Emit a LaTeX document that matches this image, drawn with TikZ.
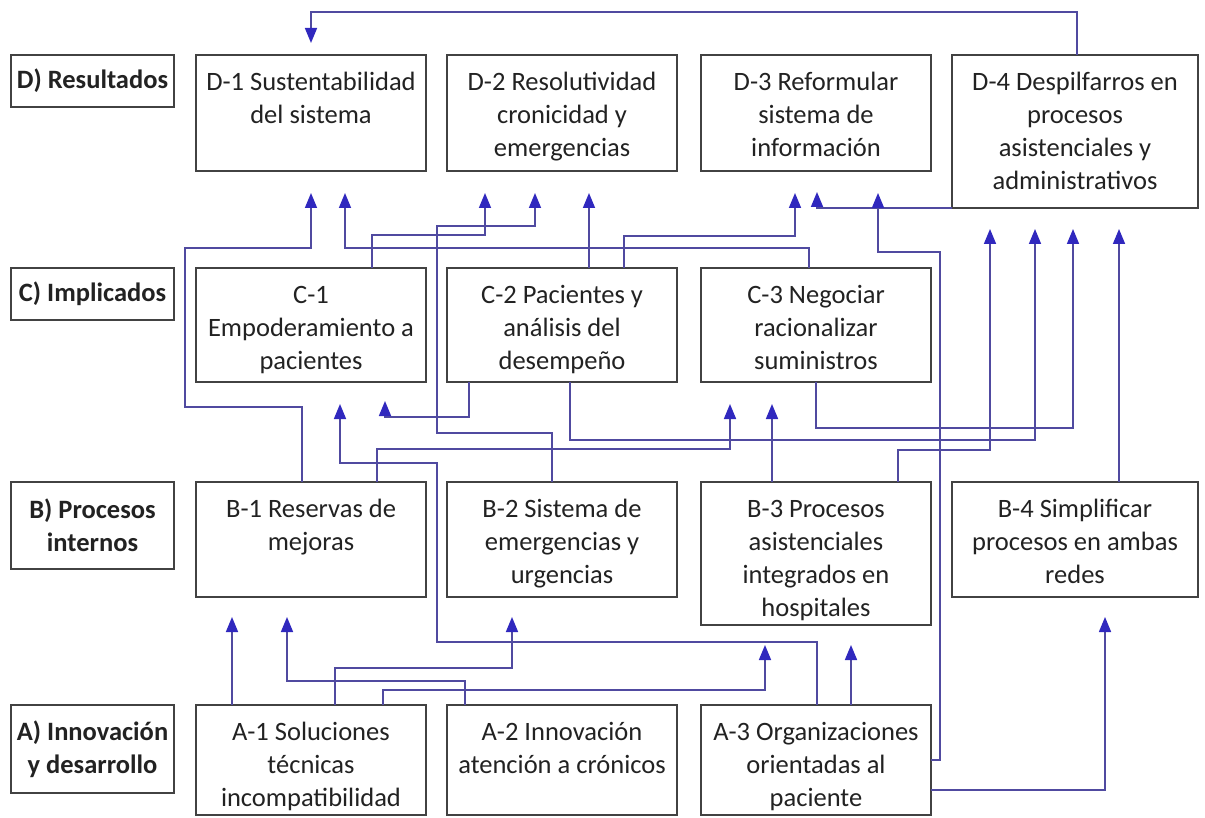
\documentclass[tikz,border=0pt]{standalone}
\usepackage{fontspec}
\setmainfont{Carlito}
\usetikzlibrary{arrows.meta,calc}
\definecolor{linec}{RGB}{80,74,160}
\definecolor{tipc}{RGB}{48,40,190}
\definecolor{boxc}{RGB}{66,66,66}
\definecolor{txtc}{RGB}{34,34,34}
\tikzset{
  box/.style={draw=boxc, line width=1.9pt, inner sep=0pt, outer sep=0pt, anchor=north west, text=txtc, font=\fontsize{26.5}{33}\selectfont},
  lbl/.style={box, font=\fontsize{26.5}{33}\selectfont\bfseries, align=center},
  conn/.style={draw=linec, line width=1.6pt, -{Triangle[length=15pt,width=12pt,color=tipc]}},
}
\newcommand\bx[6]{\node[box, minimum width=#4pt, minimum height=#5pt] (#1) at (#2,#3) {\parbox[c][#5pt][t]{#4pt}{\centering\vspace*{12.5pt}\strut #6\par}};}
\begin{document}
\begin{tikzpicture}[x=1pt,y=-1pt]
\useasboundingbox (0,0) rectangle (1205,818);
\fill[white] (0,0) rectangle (1205,818);
% row labels
\node[lbl, minimum width=163pt, minimum height=52pt] (LD) at (11,55) {D) Resultados};
\node[lbl, minimum width=163pt, minimum height=52pt] (LC) at (11,268) {C) Implicados};
\node[lbl, minimum width=163pt, minimum height=87pt] (LB) at (11,482) {B) Procesos\\internos};
\node[lbl, minimum width=163pt, minimum height=88pt] (LA) at (11,705) {A) Innovación\\y desarrollo};
% boxes
\bx{D1}{196}{55}{230}{116}{D-1 Sustentabilidad\\del sistema}
\bx{D2}{447}{55}{230}{116}{D-2 Resolutividad\\cronicidad y\\emergencias}
\bx{D3}{701}{55}{230}{116}{D-3 Reformular\\sistema de\\información}
\bx{D4}{952}{55}{246}{153}{D-4 Despilfarros en\\procesos\\asistenciales y\\administrativos}
\bx{C1}{196}{268}{230}{114}{C-1\\Empoderamiento a\\pacientes}
\bx{C2}{447}{268}{230}{114}{C-2 Pacientes y\\análisis del\\desempeño}
\bx{C3}{701}{268}{230}{114}{C-3 Negociar\\racionalizar\\suministros}
\bx{B1}{196}{482}{230}{115}{B-1 Reservas de\\mejoras}
\bx{B2}{447}{482}{230}{115}{B-2 Sistema de\\emergencias y\\urgencias}
\bx{B3}{701}{482}{230}{143}{B-3 Procesos\\asistenciales\\integrados en\\hospitales}
\bx{B4}{952}{482}{246}{115}{B-4 Simplificar\\procesos en ambas\\redes}
\bx{A1}{196}{705}{230}{110}{A-1 Soluciones\\técnicas\\incompatibilidad}
\bx{A2}{447}{705}{230}{110}{A-2 Innovación\\atención a crónicos}
\bx{A3}{701}{705}{230}{110}{A-3 Organizaciones\\orientadas al\\paciente}
% connectors
\draw[conn] (D4.north -| 1077,0) -- (1077,12) -- (311,12) -- ($(D1.north -| 311,0)+(0,-12)$);
\draw[conn] (B1.north -| 302,0) -- (302,407) -- (185,407) -- (185,248) -- (311,248) -- ($(D1.south -| 311,0)+(0,22)$);
\draw[conn] (C3.north -| 809,0) -- (809,248) -- (345,248) -- ($(D1.south -| 345,0)+(0,22)$);
\draw[conn] (C1.north -| 372,0) -- (372,235) -- (485,235) -- ($(D2.south -| 485,0)+(0,22)$);
\draw[conn] (B2.north -| 552,0) -- (552,433) -- (437,433) -- (437,226) -- (535,226) -- ($(D2.south -| 535,0)+(0,22)$);
\draw[conn] (C2.north -| 589,0) -- ($(D2.south -| 589,0)+(0,22)$);
\draw[conn] (C2.north -| 624,0) -- (624,236) -- (795,236) -- ($(D3.south -| 795,0)+(0,22)$);
\draw[conn] (D4.south west) -- (817,208) -- ($(D3.south -| 817,0)+(0,21)$);
\draw[conn] (A3.east |- 0,760) -- (940,760) -- (940,252) -- (878,252) -- ($(D3.south -| 878,0)+(0,22)$);
\draw[conn] (B3.north -| 898,0) -- (898,450) -- (990,450) -- ($(D4.south -| 990,0)+(0,21)$);
\draw[conn] (C2.south -| 570,0) -- (570,440) -- (1035,440) -- ($(D4.south -| 1035,0)+(0,21)$);
\draw[conn] (C3.south -| 816,0) -- (816,428) -- (1073,428) -- ($(D4.south -| 1073,0)+(0,21)$);
\draw[conn] (B4.north -| 1119,0) -- ($(D4.south -| 1119,0)+(0,21)$);
\draw[conn] (A3.north -| 817,0) -- (817,642) -- (437,642) -- (437,463) -- (340,463) -- ($(C1.south -| 340,0)+(0,22)$);
\draw[conn] (C2.south -| 469,0) -- (469,417) -- (385,417) -- ($(C1.south -| 385,0)+(0,19)$);
\draw[conn] (B1.north -| 377,0) -- (377,449) -- (730,449) -- ($(C3.south -| 730,0)+(0,22)$);
\draw[conn] (B3.north -| 772,0) -- ($(C3.south -| 772,0)+(0,22)$);
\draw[conn] (A1.north -| 232,0) -- ($(B1.south -| 232,0)+(0,20)$);
\draw[conn] (A2.north -| 465,0) -- (465,681) -- (287,681) -- ($(B1.south -| 287,0)+(0,20)$);
\draw[conn] (A1.north -| 335,0) -- (335,668) -- (512,668) -- ($(B2.south -| 512,0)+(0,20)$);
\draw[conn] (A1.north -| 383,0) -- (383,690) -- (765,690) -- ($(B3.south -| 765,0)+(0,20)$);
\draw[conn] (A3.north -| 851,0) -- ($(B3.south -| 851,0)+(0,20)$);
\draw[conn] (A3.east |- 0,790) -- (1105,790) -- ($(B4.south -| 1105,0)+(0,20)$);
\end{tikzpicture}
\end{document}
